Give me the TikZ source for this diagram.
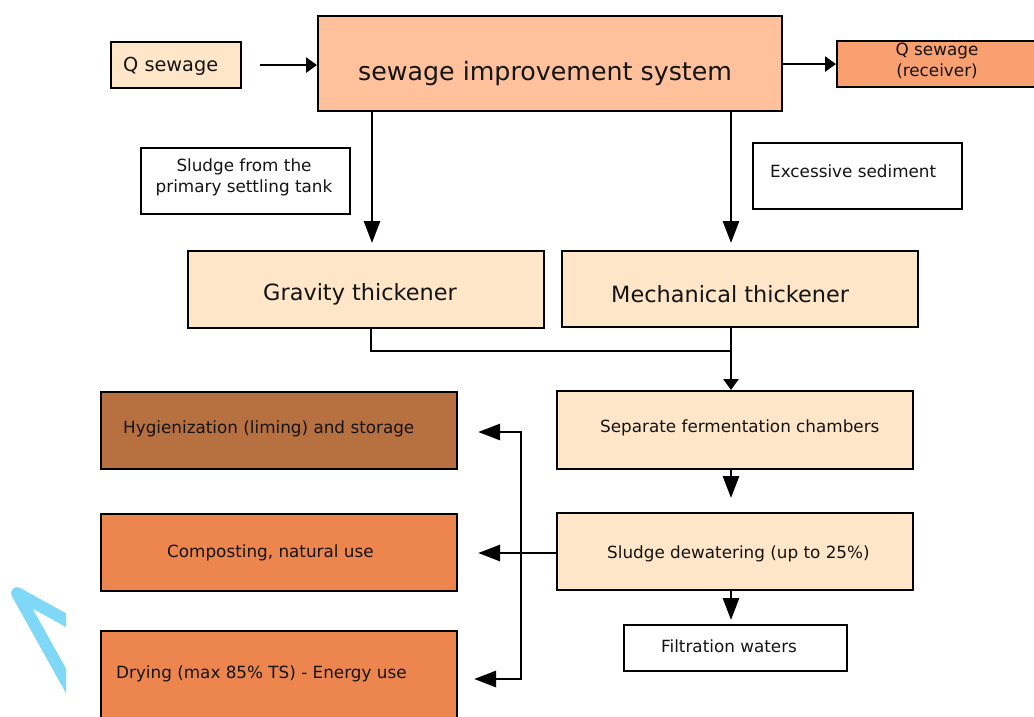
\documentclass[tikz,border=0pt]{standalone}
\usepackage{fontspec}
\setmainfont{DejaVu Sans}
\usetikzlibrary{arrows.meta}
\definecolor{peach}{HTML}{FFE6C9}
\definecolor{mainfill}{HTML}{FFC19C}
\definecolor{recvfill}{HTML}{F9A071}
\definecolor{brownfill}{HTML}{B77040}
\definecolor{orangefill}{HTML}{EC864E}
\definecolor{artblue}{HTML}{80D8F8}
\definecolor{txtcol}{HTML}{141414}
\begin{document}
\begin{tikzpicture}[x=1pt,y=-1pt,
  box/.style={draw=black, line width=2.1pt, inner sep=0pt, anchor=north west},
  lbl/.style={anchor=base west, inner sep=0pt, text=txtcol},
  clbl/.style={anchor=base, inner sep=0pt, text=txtcol, align=center},
  small/.style={font=\fontsize{16.8}{20.5}\selectfont},
  conn/.style={draw=black, line width=2.8pt},
  arrS/.style={conn, -{Triangle[length=11pt,width=15pt]}},
  arrL/.style={conn, -{Triangle[length=22pt,width=16pt]}}]
\path[use as bounding box, fill=white] (0,0) rectangle (1034,716);
\clip (0,0) rectangle (1034,716);

% decorative fragment at bottom left
\begin{scope}
\clip (0,560) rectangle (66,716);
\draw[artblue, line width=12pt, line join=round, line cap=round] (80,628) -- (17,593) -- (80,706);
\end{scope}

% boxes
\node[box, fill=peach, minimum width=130pt, minimum height=46pt] (qin) at (110,41) {};
\node[box, fill=mainfill, minimum width=464pt, minimum height=95pt] (main) at (317,15) {};
\node[box, fill=recvfill, minimum width=210pt, minimum height=46pt] (recv) at (836,40) {};
\node[box, fill=white, minimum width=209pt, minimum height=66pt] (sludge) at (140,147) {};
\node[box, fill=white, minimum width=209pt, minimum height=66pt] (excess) at (752,142) {};
\node[box, fill=peach, minimum width=356pt, minimum height=77pt] (grav) at (187,250) {};
\node[box, fill=peach, minimum width=356pt, minimum height=76pt] (mech) at (561,250) {};
\node[box, fill=brownfill, minimum width=356pt, minimum height=77pt] (hyg) at (100,391) {};
\node[box, fill=peach, minimum width=356pt, minimum height=78pt] (sep) at (556,390) {};
\node[box, fill=orangefill, minimum width=356pt, minimum height=77pt] (comp) at (100,513) {};
\node[box, fill=peach, minimum width=356pt, minimum height=77pt] (dew) at (556,512) {};
\node[box, fill=orangefill, minimum width=356pt, minimum height=100pt] (dry) at (100,630) {};
\node[box, fill=white, minimum width=223pt, minimum height=46pt] (filt) at (623,624) {};

% texts
\node[lbl, font=\fontsize{19.3}{23}\selectfont] (tqin) at (123,71) {Q sewage};
\node[lbl, font=\fontsize{25.3}{30}\selectfont] (tmain) at (358,80) {sewage improvement system};
\node[clbl, small] (trecv1) at (937,55) {Q sewage};
\node[clbl, small] (trecv2) at (937,76) {(receiver)};
\node[clbl, small] (tsl1) at (244,171) {Sludge from the};
\node[clbl, small] (tsl2) at (244,192) {primary settling tank};
\node[lbl, small] (texc) at (770,177) {Excessive sediment};
\node[lbl, font=\fontsize{22.4}{26}\selectfont] (tgrav) at (263,300) {Gravity thickener};
\node[lbl, font=\fontsize{22.4}{26}\selectfont] (tmech) at (611,302) {Mechanical thickener};
\node[lbl, small] (thyg) at (123,433) {Hygienization (liming) and storage};
\node[lbl, small] (tsep) at (600,432) {Separate fermentation chambers};
\node[lbl, small] (tcomp) at (167,557) {Composting, natural use};
\node[lbl, small] (tdew) at (607,558) {Sludge dewatering (up to 25\%)};
\node[lbl, small] (tdry) at (116,678) {Drying (max 85\% TS) - Energy use};
\node[lbl, small] (tfilt) at (661,652) {Filtration waters};

% connector coordinates
\coordinate (xl) at (372,0);
\coordinate (xr) at (731,0);
\coordinate (xg) at (371,0);
\coordinate (ymerge) at (0,351);
\coordinate (ydew) at (0,553);
\coordinate (xbus) at (521,0);
\coordinate (yhyg) at (0,432);
\coordinate (ydry) at (0,679);

% connectors
\draw[arrS, shorten <=18pt] (qin.east) -- (main.west |- qin.east);
\draw[arrS] (main.east |- recv.west) -- (recv.west);
\draw[arrL, shorten >=7pt] (xl |- main.south) -- (xl |- grav.north);
\draw[arrL, shorten >=7pt] (xr |- main.south) -- (xr |- mech.north);
\draw[conn] (xg |- grav.south) -- (xg |- ymerge) -- (xr |- ymerge);
\draw[arrS] (xr |- mech.south) -- (xr |- sep.north);
\draw[arrL, shorten >=14pt] (xr |- sep.south) -- (xr |- dew.north);
\draw[arrL, shorten >=4pt] (xr |- dew.south) -- (xr |- filt.north);
\draw[arrL, shorten >=20pt] (dew.west |- ydew) -- (comp.east |- ydew);
\draw[arrL, shorten >=20pt] (xbus |- ydry) -- (xbus |- yhyg) -- (hyg.east |- yhyg);
\draw[arrL, shorten >=16pt] (xbus |- yhyg) -- (xbus |- ydry) -- (dry.east |- ydry);
\end{tikzpicture}
\end{document}
